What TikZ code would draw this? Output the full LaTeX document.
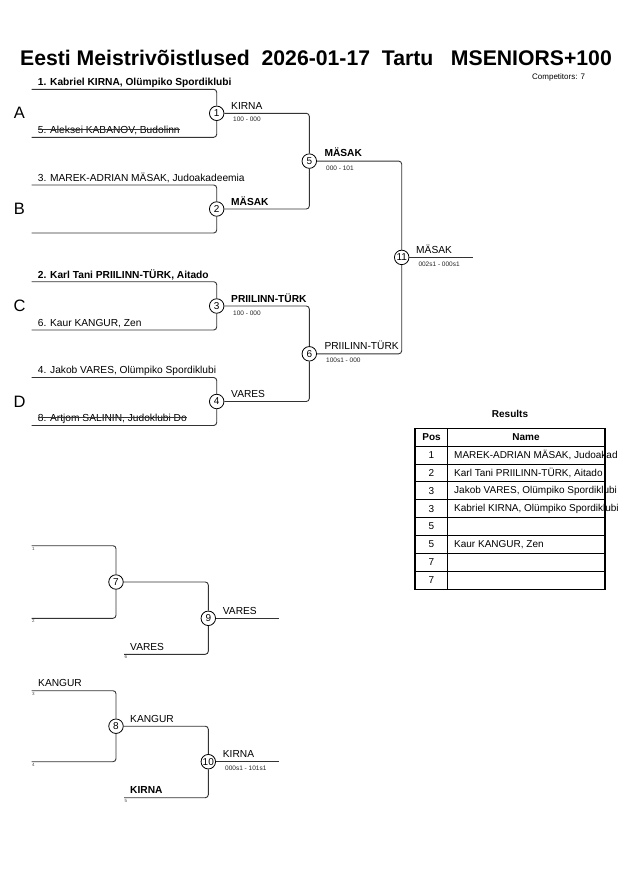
\documentclass[tikz,border=0pt]{standalone}
\usepackage{fontspec}
\setmainfont{Liberation Sans}
\begin{document}
\begin{tikzpicture}[x=1pt,y=-1pt,
  bline/.style={draw=black!80, line width=0.9pt, rounded corners=3pt},
  match/.style={circle, draw=black, line width=0.8pt, fill=white, minimum size=14.5pt, inner sep=0pt, font=\fontsize{10}{11}\selectfont},
  nm/.style={anchor=base west, inner sep=0pt, font=\fontsize{10.2}{12}\selectfont},
  bnm/.style={anchor=base west, inner sep=0pt, font=\fontsize{10.2}{12}\selectfont\bfseries},
  score/.style={anchor=base west, inner sep=0pt, font=\fontsize{6.5}{8}\selectfont, text=black!85},
  pool/.style={anchor=center, inner sep=0pt, font=\fontsize{16.5}{18}\selectfont},
  seedno/.style={anchor=base west, inner sep=0pt, font=\fontsize{4.5}{5}\selectfont, text=black!70},
  strike/.style={draw=black!80, line width=0.7pt},
  cell/.style={anchor=center, inner sep=0pt, font=\fontsize{10}{12}\selectfont},
]
\useasboundingbox (0,0) rectangle (630,891);

% Title
\node[anchor=base, inner sep=0pt, font=\fontsize{21.2}{24}\selectfont\bfseries] (title) at (316,66)
  {Eesti Meistrivõistlused~~2026-01-17~~Tartu~~~MSENIORS+100};
\node[anchor=base west, inner sep=0pt, font=\fontsize{8}{9}\selectfont] (comp) at (532,79.3) {Competitors: 7};

% Pool letters
\node[pool] (pA) at (19.5,113) {A};
\node[pool] (pB) at (19.5,209) {B};
\node[pool] (pC) at (19.5,306) {C};
\node[pool] (pD) at (19.5,402) {D};

% Match circles
\node[match] (m1) at (216.7,113.3) {1};
\node[match] (m2) at (216.7,209) {2};
\node[match] (m3) at (216.7,306) {3};
\node[match] (m4) at (216.7,401.5) {4};
\node[match] (m5) at (309.3,161.1) {5};
\node[match] (m6) at (309.3,353.8) {6};
\node[match] (m11) at (401.7,257.4) {11};
\node[match] (m7) at (116,582) {7};
\node[match] (m8) at (116,726.2) {8};
\node[match] (m9) at (208.3,618.3) {9};
\node[match] (m10) at (208.3,761.7) {10};

% Entry coordinates
\coordinate (a1) at (31.7,89.3);
\coordinate (a2) at (31.7,137.3);
\coordinate (b1) at (31.7,185);
\coordinate (b2) at (31.7,233);
\coordinate (c1) at (31.7,281.7);
\coordinate (c2) at (31.7,330);
\coordinate (d1) at (31.7,377.5);
\coordinate (d2) at (31.7,425.5);
\coordinate (w11) at (473.3,257.4);
\coordinate (r1) at (31.7,545.7);
\coordinate (r2) at (31.7,618.3);
\coordinate (r6) at (124,654.3);
\coordinate (w9) at (279.3,618.3);
\coordinate (r3) at (31.7,690.7);
\coordinate (r4) at (31.7,761.7);
\coordinate (r5) at (124,797.7);
\coordinate (w10) at (279.3,761.7);

% Main bracket lines
\draw[bline] (a1) -| (m1);
\draw[bline] (a2) -| (m1);
\draw[bline] (b1) -| (m2);
\draw[bline] (b2) -| (m2);
\draw[bline] (c1) -| (m3);
\draw[bline] (c2) -| (m3);
\draw[bline] (d1) -| (m4);
\draw[bline] (d2) -| (m4);
\draw[bline] (m1) -| (m5);
\draw[bline] (m2) -| (m5);
\draw[bline] (m3) -| (m6);
\draw[bline] (m4) -| (m6);
\draw[bline] (m5) -| (m11);
\draw[bline] (m6) -| (m11);
\draw[bline] (m11) -- (w11);

% Repechage lines
\draw[bline] (r1) -| (m7);
\draw[bline] (r2) -| (m7);
\draw[bline] (m7) -| (m9);
\draw[bline] (r6) -| (m9);
\draw[bline] (m9) -- (w9);
\draw[bline] (r3) -| (m8);
\draw[bline] (r4) -| (m8);
\draw[bline] (m8) -| (m10);
\draw[bline] (r5) -| (m10);
\draw[bline] (m10) -- (w10);

% Competitor names
\node[bnm] (n1) at (37.7,85.7) {1. Kabriel KIRNA, Olümpiko Spordiklubi};
\node[nm] (n5) at (37.7,133.6) {5. Aleksei KABANOV, Budolinn};
\draw[strike] ([yshift=4.2pt]n5.base west) -- ([yshift=4.2pt]n5.base east);
\node[nm] (n3) at (37.7,181.4) {3. MAREK-ADRIAN MÄSAK, Judoakadeemia};
\node[bnm] (n2) at (37.7,278) {2. Karl Tani PRIILINN-TÜRK, Aitado};
\node[nm] (n6) at (37.7,326) {6. Kaur KANGUR, Zen};
\node[nm] (n4) at (37.7,373.8) {4. Jakob VARES, Olümpiko Spordiklubi};
\node[nm] (n8) at (37.7,421.8) {8. Artjom SALININ, Judoklubi Do};
\draw[strike] ([yshift=4.2pt]n8.base west) -- ([yshift=4.2pt]n8.base east);

% Winners and scores
\node[nm] (t1) at (231,109.3) {KIRNA};
\node[score] (s1) at (233,121.7) {100 - 000};
\node[bnm] (t2) at (231,205) {MÄSAK};
\node[bnm] (t3) at (231,302) {PRIILINN-TÜRK};
\node[score] (s3) at (233,315) {100 - 000};
\node[nm] (t4) at (231,397.6) {VARES};
\node[bnm] (t5) at (324.3,156.9) {MÄSAK};
\node[score] (s5) at (326,170) {000 - 101};
\node[nm] (t6) at (324.3,349.6) {PRIILINN-TÜRK};
\node[score] (s6) at (326,362.8) {100s1 - 000};
\node[nm] (t11) at (416,253.4) {MÄSAK};
\node[score] (s11) at (418.3,266.7) {002s1 - 000s1};

% Repechage texts
\node[seedno] (q1) at (32,550.5) {1};
\node[seedno] (q2) at (32,622.5) {2};
\node[seedno] (q6) at (124.5,658.5) {6};
\node[nm] (rt6) at (130,650.3) {VARES};
\node[nm] (t9) at (222.7,614.2) {VARES};
\node[nm] (rt3) at (38,686.8) {KANGUR};
\node[seedno] (q3) at (32,695) {3};
\node[seedno] (q4) at (32,766) {4};
\node[nm] (t8) at (130,722.3) {KANGUR};
\node[bnm] (rt5) at (130,793.8) {KIRNA};
\node[seedno] (q5) at (124.5,802) {5};
\node[nm] (t10) at (222.7,757.7) {KIRNA};
\node[score] (s10) at (225,770.3) {000s1 - 101s1};

% Results table
\node[anchor=center, inner sep=0pt, font=\fontsize{10}{12}\selectfont\bfseries] (restitle) at (510,414) {Results};
\node[cell, font=\fontsize{10}{12}\selectfont\bfseries] (hpos) at (431.5,437.2) {Pos};
\node[cell, font=\fontsize{10}{12}\selectfont\bfseries] (hname) at (526,437.2) {Name};
\foreach \i/\p/\n in {1/1/{MAREK-ADRIAN MÄSAK, Judoakad},2/2/{Karl Tani PRIILINN-TÜRK, Aitado},3/3/{Jakob VARES, Olümpiko Spordiklubi},4/3/{Kabriel KIRNA, Olümpiko Spordiklubi},5/5/{},6/5/{Kaur KANGUR, Zen},7/7/{},8/7/{}}{
  \node[cell] (pos\i) at (431.5,{446+(\i-1)*17.91+8.95}) {\p};
  \node[anchor=west, inner sep=0pt, font=\fontsize{10}{12}\selectfont] (res\i) at (454,{446+(\i-1)*17.91+8.95}) {\n};
  \draw[line width=0.8pt] (415,{446+(\i-1)*17.91}) -- (605,{446+(\i-1)*17.91});
}
\draw[line width=0.8pt] (447.3,428.3) -- (447.3,589.3);
\draw[line width=1.5pt] (415,428.3) rectangle (605,589.3);
\end{tikzpicture}
\end{document}
